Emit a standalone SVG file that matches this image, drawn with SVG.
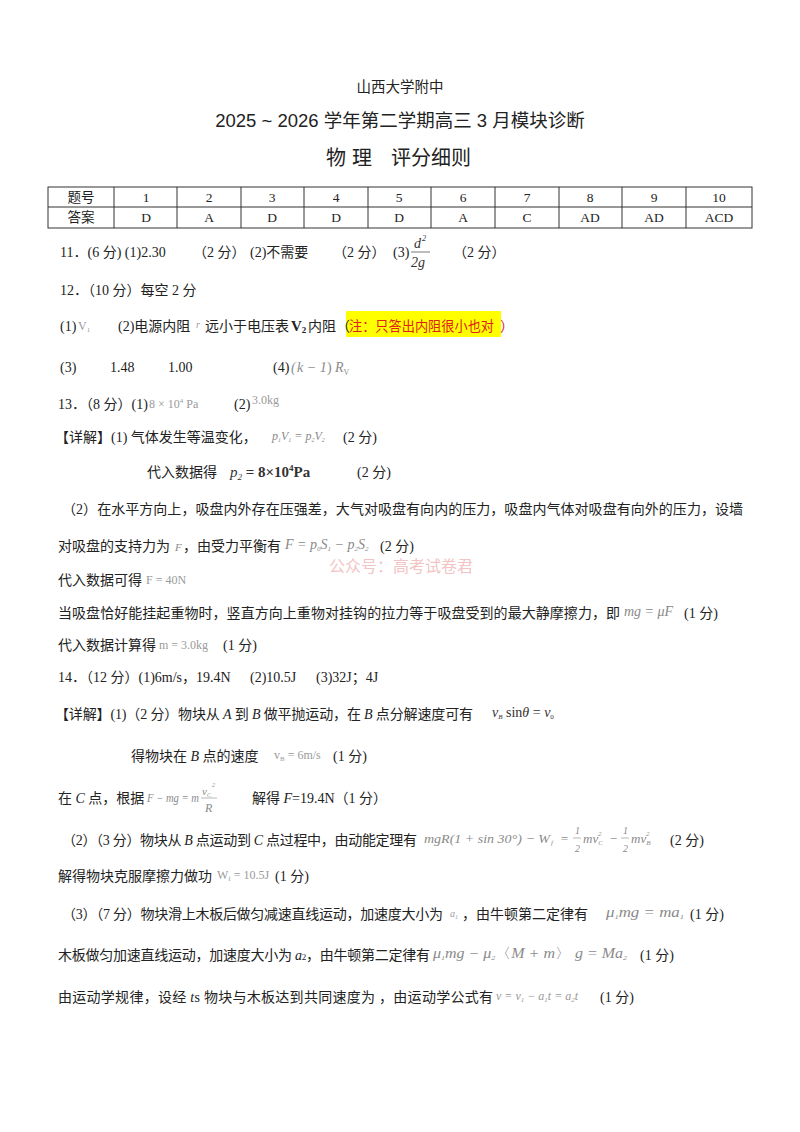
<svg xmlns="http://www.w3.org/2000/svg" width="800" height="1132" viewBox="0 0 800 1132">
<style>
.t{font-family:"Liberation Serif","Noto Sans CJK SC",serif;font-size:14px;fill:#222}
.h{font-family:"Liberation Sans","Noto Sans CJK SC",sans-serif;fill:#222}
.g{font-family:"Liberation Serif",serif;fill:#9a9a9a}
.gi{font-family:"Liberation Serif",serif;fill:#8a8a8a;font-style:italic}
.m{font-family:"Liberation Serif",serif;fill:#333;font-style:italic}
.c{font-family:"Liberation Serif","Noto Sans CJK SC",serif;font-size:13.5px;fill:#222;text-anchor:middle}
.cell{fill:none;stroke:#333;stroke-width:1}
.fl{stroke:#999;stroke-width:0.7}
</style>
<rect width="800" height="1132" fill="#fff"/>
<g id="title">
<text class="h" x="400" y="92" font-size="14.5" text-anchor="middle">山西大学附中</text>
<text class="h" x="400" y="127" font-size="18.5" text-anchor="middle">2025 ~ 2026 学年第二学期高三 3 月模块诊断</text>
<text class="h" y="165" font-size="20"><tspan x="326">物</tspan><tspan x="352">理</tspan><tspan x="391">评分细则</tspan></text>
</g>
<g id="table">
<rect class="cell" x="48" y="187" width="704" height="41"/>
<line class="cell" x1="48" y1="207" x2="752" y2="207"/>
<g stroke="#333" stroke-width="1">
<line x1="114" y1="187" x2="114" y2="228"/><line x1="177" y1="187" x2="177" y2="228"/>
<line x1="241" y1="187" x2="241" y2="228"/><line x1="304" y1="187" x2="304" y2="228"/>
<line x1="368" y1="187" x2="368" y2="228"/><line x1="431" y1="187" x2="431" y2="228"/>
<line x1="495" y1="187" x2="495" y2="228"/><line x1="559" y1="187" x2="559" y2="228"/>
<line x1="622" y1="187" x2="622" y2="228"/><line x1="686" y1="187" x2="686" y2="228"/>
</g>
<text class="c" y="202"><tspan x="81">题号</tspan><tspan x="146">1</tspan><tspan x="209">2</tspan><tspan x="272">3</tspan><tspan x="336">4</tspan><tspan x="399">5</tspan><tspan x="463">6</tspan><tspan x="527">7</tspan><tspan x="590">8</tspan><tspan x="654">9</tspan><tspan x="719">10</tspan></text>
<text class="c" y="222"><tspan x="81">答案</tspan><tspan x="146">D</tspan><tspan x="209">A</tspan><tspan x="272">D</tspan><tspan x="336">D</tspan><tspan x="399">D</tspan><tspan x="463">A</tspan><tspan x="527">C</tspan><tspan x="590">AD</tspan><tspan x="654">AD</tspan><tspan x="719">ACD</tspan></text>
</g>
<g id="q11">
<text class="t" y="257"><tspan x="60">11．(6 分) (1)2.30</tspan><tspan x="193">（2 分）</tspan><tspan x="250">(2)不需要</tspan><tspan x="333">（2 分）</tspan><tspan x="393">(3)</tspan><tspan x="453">（2 分）</tspan></text>
<text class="m" x="414" y="248" font-size="14">d</text><text class="m" x="422" y="241" font-size="8" font-style="normal">2</text>
<line x1="411" y1="252" x2="430" y2="252" stroke="#555" stroke-width="0.8"/>
<text class="m" x="411" y="267" font-size="14">2g</text>
</g>
<g id="q12">
<text class="t" x="60" y="295">12．（10 分）每空 2 分</text>
<rect x="346" y="311" width="155" height="26" fill="#ffff00"/>
<text class="t" y="331"><tspan x="60">(1)</tspan><tspan x="118">(2)电源内阻</tspan><tspan x="205">远小于电压表</tspan><tspan x="308">内阻（</tspan><tspan x="349" fill="#e0201a" textLength="145" lengthAdjust="spacingAndGlyphs">注：只答出内阻很小也对</tspan><tspan x="500" fill="#e0201a">）</tspan></text>
<text class="g" x="196" y="328" font-style="italic" font-size="10">r</text>
<text x="291" y="331" font-family="Liberation Serif,serif" font-weight="bold" font-size="15" fill="#222">V<tspan font-size="9" dy="2">2</tspan></text>
<text class="g" x="78" y="330" font-size="12">V<tspan font-size="7" dy="2">1</tspan></text>
<text class="t" y="372"><tspan x="60">(3)</tspan><tspan x="110">1.48</tspan><tspan x="168">1.00</tspan><tspan x="273">(4)</tspan></text>
<text class="gi" x="291" y="372" font-size="14">(<tspan x="297">k − 1</tspan><tspan x="327" font-style="normal">)</tspan><tspan x="335">R</tspan><tspan font-size="8" font-style="normal" dy="3">V</tspan></text>
</g>
<g id="q13">
<text class="t" y="409"><tspan x="58">13．（8 分）(1)</tspan><tspan x="234">(2)</tspan></text>
<text class="g" x="149" y="408" font-size="12">8 × 10<tspan font-size="7" dy="-5">4</tspan><tspan dy="5"> Pa</tspan></text>
<text class="g" x="252" y="404" font-size="12">3.0kg</text>
<text class="t" y="442"><tspan x="55">【详解】(1) 气体发生等温变化，</tspan><tspan x="343">(2 分)</tspan></text>
<text class="gi" x="272" y="440" font-size="12">p<tspan font-size="6" dy="2">1</tspan><tspan dy="-2">V</tspan><tspan font-size="6" dy="2">1</tspan><tspan dy="-2"> = p</tspan><tspan font-size="6" dy="2">2</tspan><tspan dy="-2">V</tspan><tspan font-size="6" dy="2">2</tspan></text>
<text class="t" y="477"><tspan x="147">代入数据得</tspan><tspan x="357">(2 分)</tspan></text>
<text class="m" x="230" y="477" font-size="15">p<tspan font-size="9" dy="3">2</tspan><tspan font-style="normal" font-weight="bold" dy="-3"> = 8×10</tspan><tspan font-style="normal" font-weight="bold" font-size="9" dy="-6">4</tspan><tspan font-style="normal" font-weight="bold" dy="6">Pa</tspan></text>
<text class="t" x="62" y="514" textLength="681" lengthAdjust="spacing">（2）在水平方向上，吸盘内外存在压强差，大气对吸盘有向内的压力，吸盘内气体对吸盘有向外的压力，设墙</text>
<text class="t" y="551"><tspan x="58">对吸盘的支持力为</tspan><tspan x="175" class="gi" font-size="11">F</tspan><tspan x="183">，由受力平衡有</tspan><tspan x="380">(2 分)</tspan></text>
<text class="gi" x="285" y="549" font-size="14">F = p<tspan font-size="7" dy="2">0</tspan><tspan dy="-2">S</tspan><tspan font-size="7" dy="2">1</tspan><tspan dy="-2"> − p</tspan><tspan font-size="7" dy="2">2</tspan><tspan dy="-2">S</tspan><tspan font-size="7" dy="2">2</tspan></text>
<text x="401" y="572" font-family="Liberation Sans,Noto Sans CJK SC,sans-serif" font-size="16" fill="#f2c4c4" text-anchor="middle">公众号：高考试卷君</text>
<text class="t" x="58" y="585">代入数据可得</text>
<text class="g" x="146" y="584" font-size="12">F = 40N</text>
<text class="t" y="618"><tspan x="58" textLength="562" lengthAdjust="spacing">当吸盘恰好能挂起重物时，竖直方向上重物对挂钩的拉力等于吸盘受到的最大静摩擦力，即</tspan><tspan x="684">(1 分)</tspan></text>
<text class="gi" x="624" y="616" font-size="14">mg = μF</text>
<text class="t" y="650"><tspan x="58">代入数据计算得</tspan><tspan x="223">(1 分)</tspan></text>
<text class="g" x="159" y="649" font-size="12">m = 3.0kg</text>
</g>
<g id="q14">
<text class="t" y="682"><tspan x="58">14．（12 分）(1)6m/s，19.4N</tspan><tspan x="250">(2)10.5J</tspan><tspan x="316">(3)32J；4J</tspan></text>
<text class="t" x="55" y="719" textLength="418" lengthAdjust="spacing">【详解】(1)（2 分）物块从 <tspan font-style="italic">A</tspan> 到 <tspan font-style="italic">B</tspan> 做平抛运动，在 <tspan font-style="italic">B</tspan> 点分解速度可有</text>
<text class="m" x="492" y="717" font-size="14">v<tspan font-size="7" dy="2">B</tspan><tspan font-style="normal" dy="-2"> sin</tspan>θ<tspan font-style="normal"> = </tspan>v<tspan font-size="7" font-style="normal" dy="2">0</tspan></text>
<text class="t" y="761"><tspan x="131">得物块在 <tspan font-style="italic">B</tspan> 点的速度</tspan><tspan x="333">(1 分)</tspan></text>
<text class="g" x="274" y="759" font-size="12">v<tspan font-size="7" dy="2">B</tspan><tspan dy="-2"> = 6m/s</tspan></text>
<text class="t" y="803"><tspan x="58">在 <tspan font-style="italic">C</tspan> 点，根据</tspan><tspan x="252">解得 <tspan font-style="italic">F</tspan>=19.4N（1 分）</tspan></text>
<text class="gi" x="147" y="802" font-size="12" textLength="52" lengthAdjust="spacingAndGlyphs">F − mg = m</text>
<text class="gi" x="202" y="795" font-size="11">v<tspan font-size="6" dy="2">C</tspan></text>
<text class="gi" x="212" y="787" font-size="6">2</text>
<line class="fl" x1="201" y1="798" x2="217" y2="798"/>
<text class="gi" x="205" y="812" font-size="12">R</text>
<text class="t" y="845"><tspan x="62" textLength="355" lengthAdjust="spacing">（2）（3 分）物块从 <tspan font-style="italic">B</tspan> 点运动到 <tspan font-style="italic">C</tspan> 点过程中，由动能定理有</tspan><tspan x="670">(2 分)</tspan></text>
<text class="gi" x="424" y="843" font-size="13" textLength="126" lengthAdjust="spacingAndGlyphs">mgR(1 + sin 30°) − W</text>
<text class="gi" x="551" y="845" font-size="7">f</text>
<text class="gi" x="560" y="843" font-size="13" font-style="normal">=</text>
<text class="gi" x="575" y="834" font-size="10" font-style="normal">1</text>
<line class="fl" x1="573" y1="838" x2="581" y2="838"/>
<text class="gi" x="575" y="852" font-size="10" font-style="normal">2</text>
<text class="gi" x="583" y="843" font-size="13">mv<tspan font-size="7" dy="2">C</tspan></text>
<text class="gi" x="598" y="836" font-size="7">2</text>
<text class="gi" x="609" y="843" font-size="13" font-style="normal">−</text>
<text class="gi" x="623" y="834" font-size="10" font-style="normal">1</text>
<line class="fl" x1="621" y1="838" x2="629" y2="838"/>
<text class="gi" x="623" y="852" font-size="10" font-style="normal">2</text>
<text class="gi" x="631" y="843" font-size="13">mv<tspan font-size="7" dy="2">B</tspan></text>
<text class="gi" x="646" y="836" font-size="7">2</text>
<text class="t" y="881"><tspan x="58">解得物块克服摩擦力做功</tspan><tspan x="275">(1 分)</tspan></text>
<text class="g" x="217" y="879" font-size="12">W<tspan font-size="7" dy="2">f</tspan><tspan dy="-2"> = 10.5J</tspan></text>
<text class="t" y="919"><tspan x="62" textLength="381" lengthAdjust="spacing">（3）（7 分）物块滑上木板后做匀减速直线运动，加速度大小为</tspan><tspan x="462">，由牛顿第二定律有</tspan><tspan x="690">(1 分)</tspan></text>
<text class="g" x="450" y="917" font-size="10" font-style="italic">a<tspan font-size="6" dy="2">1</tspan></text>
<text class="gi" x="606" y="917" font-size="14" textLength="78" lengthAdjust="spacingAndGlyphs">μ<tspan font-size="7" dy="2">1</tspan><tspan dy="-2">mg = ma</tspan><tspan font-size="7" dy="2">1</tspan></text>
<text class="t" y="960"><tspan x="58" textLength="372" lengthAdjust="spacing">木板做匀加速直线运动，加速度大小为 <tspan font-style="italic">a</tspan><tspan font-size="9">2</tspan>，由牛顿第二定律有</tspan><tspan x="640">(1 分)</tspan></text>
<text class="gi" x="433" y="958" font-size="14" textLength="194" lengthAdjust="spacingAndGlyphs">μ<tspan font-size="7" dy="2">1</tspan><tspan dy="-2">mg − μ</tspan><tspan font-size="7" dy="2">2</tspan><tspan font-style="normal" dy="-2">〈</tspan>M + m<tspan font-style="normal">〉 </tspan>g = Ma<tspan font-size="7" dy="2">2</tspan></text>
<text class="t" y="1002"><tspan x="58" textLength="435" lengthAdjust="spacing">由运动学规律，设经 <tspan font-style="italic">t</tspan>s 物块与木板达到共同速度为  ，由运动学公式有</tspan><tspan x="600">(1 分)</tspan></text>
<text class="g" x="496" y="1000" font-size="12" font-style="italic">v = v<tspan font-size="7" dy="2">1</tspan><tspan dy="-2"> − a</tspan><tspan font-size="7" dy="2">1</tspan><tspan dy="-2">t = a</tspan><tspan font-size="7" dy="2">2</tspan><tspan dy="-2">t</tspan></text>
</g>
</svg>
